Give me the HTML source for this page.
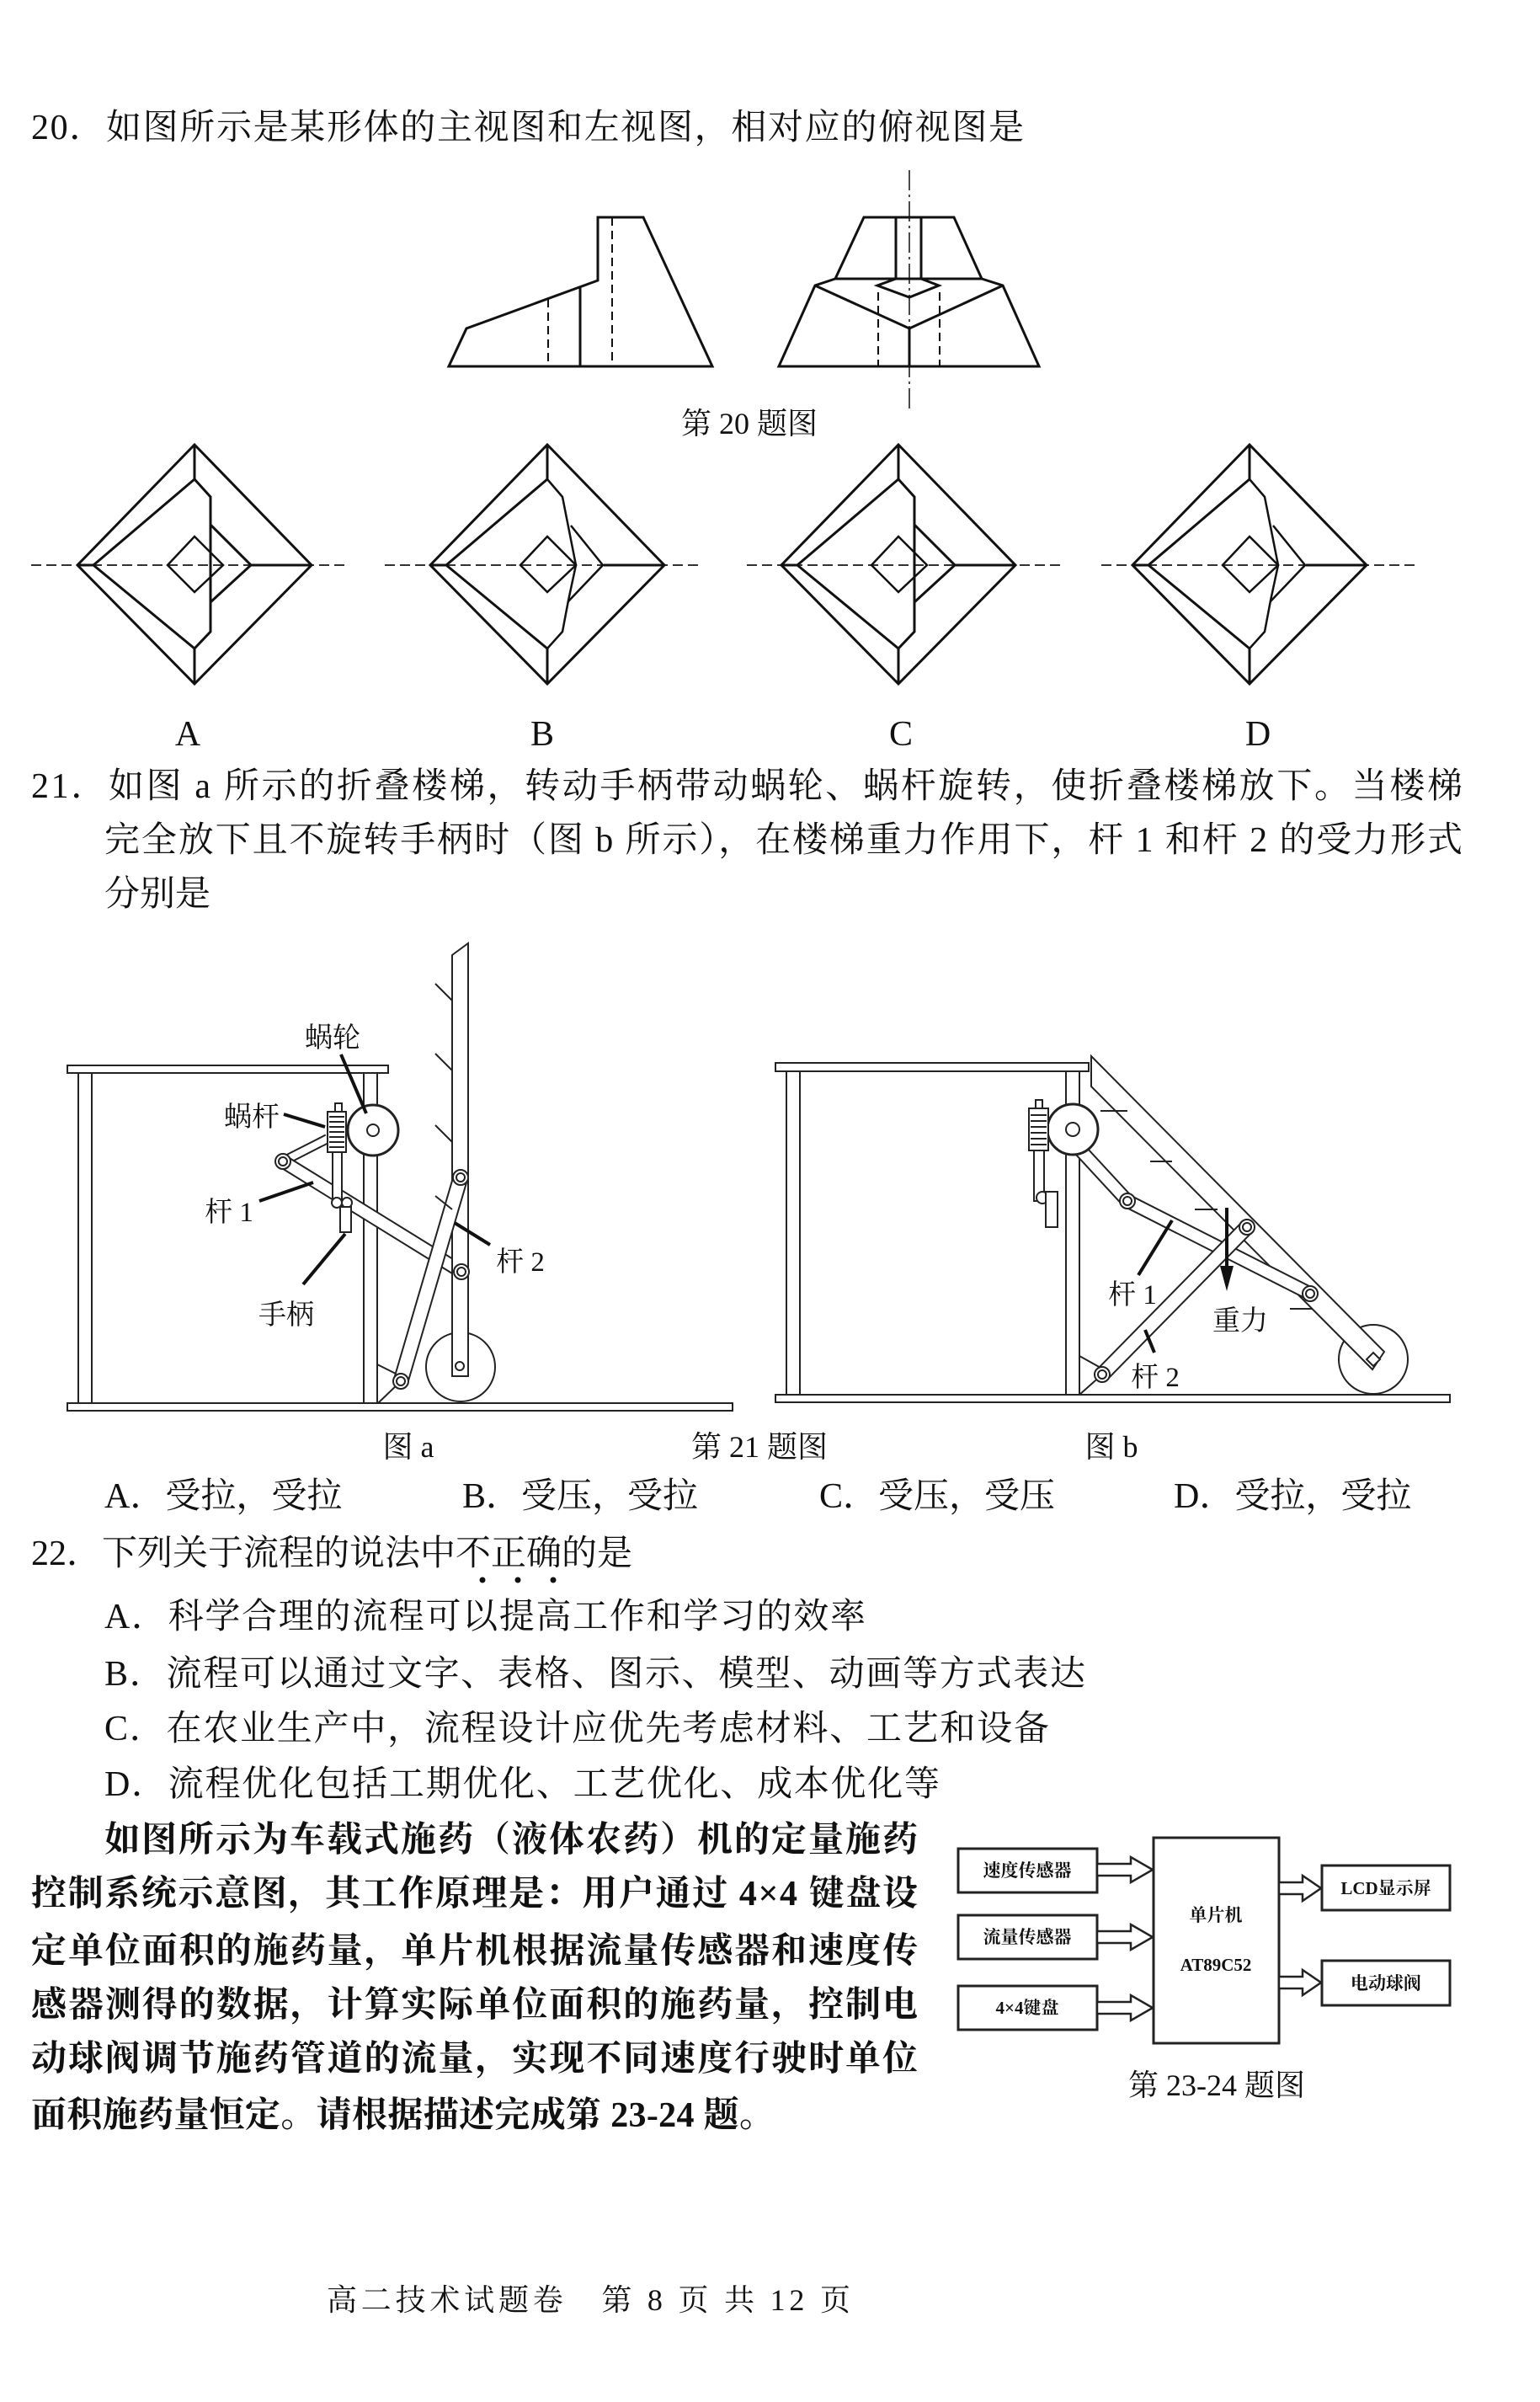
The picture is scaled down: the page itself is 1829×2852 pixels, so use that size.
<!DOCTYPE html>
<html><head><meta charset="utf-8"><style>
html,body{margin:0;padding:0;background:#fff;}
svg{display:block;}
text{font-family:"Liberation Serif","Noto Serif CJK SC",serif;fill:#111;}
.t{font-size:42px;}
.p{font-size:42px;font-weight:bold;}
.s{font-size:33px;}
.c{font-size:36px;}
.b{font-size:21px;font-weight:bold;}
</style></head><body>
<svg width="1829" height="2852" viewBox="0 0 1829 2852" xmlns="http://www.w3.org/2000/svg">
<rect width="1829" height="2852" fill="#fff"/>
<g stroke="#111" fill="none" stroke-width="3">
<polygon points="533,435 554,390 710,333 710,258 764,258 846,435"/>
<line x1="689" y1="341" x2="689" y2="435"/>
<line x1="651" y1="355" x2="651" y2="435" stroke-dasharray="10,6" stroke-width="2"/>
<line x1="727" y1="258" x2="727" y2="435" stroke-dasharray="10,6" stroke-width="2"/>
<polygon points="1026,258 1133,258 1166,331 992,331"/>
<polyline points="992,331 968,339 925,435 1234,435 1191,339 1166,331"/>
<polyline points="968,339 1080,390 1191,339"/>
<polyline points="1064,258 1064,331 1042,339 1080,353 1115,339 1094,331 1094,258"/>
<line x1="1043" y1="347" x2="1043" y2="435" stroke-dasharray="10,6" stroke-width="2"/>
<line x1="1116" y1="347" x2="1116" y2="435" stroke-dasharray="10,6" stroke-width="2"/>
<line x1="1080" y1="390" x2="1080" y2="435"/>
<line x1="1080" y1="202" x2="1080" y2="487" stroke-dasharray="24,5,3,5" stroke-width="1.5"/>
</g>
<text class="c" x="890" y="515" text-anchor="middle">第 20 题图</text>

<g stroke="#333" stroke-width="2" stroke-dasharray="12,6">
<line x1="37" y1="671" x2="412" y2="671"/><line x1="457" y1="671" x2="832" y2="671"/>
<line x1="887" y1="671" x2="1262" y2="671"/><line x1="1308" y1="671" x2="1683" y2="671"/>
</g>
<defs>
<g id="dcom" stroke="#111" stroke-width="3" fill="none">
<polygon points="0,-143 139,0 0,141 -139,0"/>
<polyline points="0,-102 -120,0 0,99"/>
<line x1="0" y1="-143" x2="0" y2="-102"/><line x1="0" y1="99" x2="0" y2="141"/>
<polygon points="0,-34 34,0 0,32 -32,0" stroke-width="2.5"/>
<line x1="-139" y1="0" x2="-120" y2="0"/><line x1="67" y1="0" x2="139" y2="0"/>
</g>
<g id="dA" stroke="#111" stroke-width="3" fill="none">
<polyline points="0,-102 19,-81 19,79 0,99"/>
<polyline points="19,-48 67,0 19,44"/>
</g>
<g id="dB" stroke="#111" stroke-width="2.5" fill="none">
<polyline points="0,-102 18,-81 34,0 25,42 18,79 0,99"/>
<polyline points="28,-47 66,0 25,43"/>
</g>
</defs>
<g transform="translate(231,671)"><use href="#dcom"/><use href="#dA"/></g>
<g transform="translate(650,671)"><use href="#dcom"/><use href="#dB"/></g>
<g transform="translate(1067,671)"><use href="#dcom"/><use href="#dA"/></g>
<g transform="translate(1484,671)"><use href="#dcom"/><use href="#dB"/></g>
<text class="t" x="223" y="885" text-anchor="middle">A</text>
<text class="t" x="644" y="885" text-anchor="middle">B</text>
<text class="t" x="1070" y="885" text-anchor="middle">C</text>
<text class="t" x="1494" y="885" text-anchor="middle">D</text>

<text class="t" x="37" y="165" textLength="1179" lengthAdjust="spacing">20．如图所示是某形体的主视图和左视图，相对应的俯视图是</text>
<text class="t" x="37" y="947" textLength="1700" lengthAdjust="spacing">21．如图 a 所示的折叠楼梯，转动手柄带动蜗轮、蜗杆旋转，使折叠楼梯放下。当楼梯</text>
<text class="t" x="124" y="1011" textLength="1613" lengthAdjust="spacing">完全放下且不旋转手柄时（图 b 所示），在楼梯重力作用下，杆 1 和杆 2 的受力形式</text>
<text class="t" x="124" y="1075">分别是</text>

<g stroke="#222" stroke-width="2" fill="#fff">
<rect x="80" y="1265" width="381" height="9"/>
<rect x="93" y="1274" width="16" height="392"/>
<rect x="432" y="1274" width="16" height="392"/>
<rect x="80" y="1666" width="790" height="9"/>
<line x1="448" y1="1620" x2="476" y2="1634"/>
<line x1="476" y1="1640" x2="449" y2="1666"/>
<line x1="336" y1="1379" x2="389" y2="1352" stroke-width="12"/>
<line x1="336" y1="1379" x2="389" y2="1352" stroke="#fff" stroke-width="8"/>
<line x1="336" y1="1379" x2="548" y2="1510" stroke-width="17"/>
<line x1="336" y1="1379" x2="548" y2="1510" stroke="#fff" stroke-width="13"/>
<circle cx="547" cy="1623" r="41"/>
<polygon points="537,1134 556,1120 556,1634 537,1634"/>
<line x1="547" y1="1398" x2="476" y2="1640" stroke-width="19"/>
<line x1="547" y1="1398" x2="476" y2="1640" stroke="#fff" stroke-width="15"/>
<circle cx="336" cy="1379" r="9"/><circle cx="336" cy="1379" r="5"/>
<circle cx="547" cy="1398" r="9"/><circle cx="547" cy="1398" r="5"/>
<circle cx="476" cy="1640" r="9"/><circle cx="476" cy="1640" r="5"/>
<circle cx="548" cy="1510" r="9"/><circle cx="548" cy="1510" r="5"/>
<circle cx="546" cy="1622" r="5"/>
<circle cx="443" cy="1342" r="30" stroke-width="3"/><circle cx="443" cy="1342" r="7"/>
<rect x="398" y="1310" width="8" height="10"/>
<rect x="389" y="1320" width="22" height="48"/>
<rect x="395" y="1368" width="11" height="62"/>
<circle cx="400" cy="1428" r="6"/><circle cx="412" cy="1428" r="6"/>
<rect x="404" y="1433" width="13" height="30"/>
</g>
<g stroke="#222" stroke-width="2">
<line x1="391" y1="1326" x2="409" y2="1326"/><line x1="391" y1="1332" x2="409" y2="1332"/>
<line x1="391" y1="1338" x2="409" y2="1338"/><line x1="391" y1="1344" x2="409" y2="1344"/>
<line x1="391" y1="1350" x2="409" y2="1350"/><line x1="391" y1="1356" x2="409" y2="1356"/>
<line x1="391" y1="1362" x2="409" y2="1362"/>
<line x1="517" y1="1168" x2="537" y2="1188"/><line x1="517" y1="1251" x2="537" y2="1271"/>
<line x1="517" y1="1336" x2="537" y2="1356"/><line x1="517" y1="1420" x2="537" y2="1436"/>
</g>
<g stroke="#111" stroke-width="4">
<line x1="405" y1="1252" x2="435" y2="1322"/>
<line x1="337" y1="1323" x2="386" y2="1338"/>
<line x1="308" y1="1426" x2="372" y2="1404"/>
<line x1="360" y1="1525" x2="410" y2="1465"/>
<line x1="582" y1="1478" x2="540" y2="1452"/>
</g>
<text class="s" x="395" y="1243" text-anchor="middle">蜗轮</text>
<text class="s" x="299" y="1337" text-anchor="middle">蜗杆</text>
<text class="s" x="272" y="1450" text-anchor="middle">杆 1</text>
<text class="s" x="340" y="1572" text-anchor="middle">手柄</text>
<text class="s" x="618" y="1509" text-anchor="middle">杆 2</text>

<g stroke="#222" stroke-width="2" fill="#fff">
<rect x="921" y="1262" width="372" height="10"/>
<rect x="934" y="1272" width="16" height="384"/>
<rect x="1266" y="1272" width="16" height="384"/>
<rect x="921" y="1656" width="801" height="9"/>
<line x1="1282" y1="1610" x2="1309" y2="1625"/>
<line x1="1309" y1="1632" x2="1282" y2="1656"/>
<circle cx="1631" cy="1614" r="41"/>
<polygon points="1296,1254 1644,1605 1630,1626 1296,1290"/>
<line x1="1278" y1="1360" x2="1339" y2="1426" stroke-width="17"/>
<line x1="1278" y1="1360" x2="1339" y2="1426" stroke="#fff" stroke-width="13"/>
<line x1="1339" y1="1426" x2="1556" y2="1536" stroke-width="17"/>
<line x1="1339" y1="1426" x2="1556" y2="1536" stroke="#fff" stroke-width="13"/>
<line x1="1481" y1="1457" x2="1309" y2="1632" stroke-width="19"/>
<line x1="1481" y1="1457" x2="1309" y2="1632" stroke="#fff" stroke-width="15"/>
<circle cx="1339" cy="1426" r="9"/><circle cx="1339" cy="1426" r="5"/>
<circle cx="1481" cy="1457" r="9"/><circle cx="1481" cy="1457" r="5"/>
<circle cx="1556" cy="1536" r="9"/><circle cx="1556" cy="1536" r="5"/>
<circle cx="1309" cy="1632" r="9"/><circle cx="1309" cy="1632" r="5"/>
<polygon points="1631,1606 1639,1614 1631,1622 1623,1614"/>
<circle cx="1274" cy="1341" r="30" stroke-width="3"/><circle cx="1274" cy="1341" r="8"/>
<rect x="1230" y="1306" width="8" height="10"/>
<rect x="1222" y="1316" width="23" height="50"/>
<rect x="1228" y="1366" width="12" height="60"/>
<circle cx="1238" cy="1422" r="7"/>
<rect x="1242" y="1415" width="14" height="42"/>
</g>
<g stroke="#222" stroke-width="2">
<line x1="1224" y1="1324" x2="1243" y2="1324"/><line x1="1224" y1="1331" x2="1243" y2="1331"/>
<line x1="1224" y1="1338" x2="1243" y2="1338"/><line x1="1224" y1="1345" x2="1243" y2="1345"/>
<line x1="1224" y1="1352" x2="1243" y2="1352"/><line x1="1224" y1="1359" x2="1243" y2="1359"/>
<line x1="1307" y1="1319" x2="1339" y2="1319"/><line x1="1366" y1="1379" x2="1392" y2="1379"/>
<line x1="1419" y1="1436" x2="1446" y2="1436"/><line x1="1532" y1="1554" x2="1559" y2="1554"/>
</g>
<g stroke="#111" stroke-width="4">
<line x1="1352" y1="1514" x2="1392" y2="1449"/>
<line x1="1371" y1="1606" x2="1360" y2="1579"/>
<line x1="1457" y1="1434" x2="1457" y2="1505"/>
</g>
<polygon points="1449,1503 1465,1503 1457,1533" fill="#111"/>
<text class="s" x="1345" y="1548" text-anchor="middle">杆 1</text>
<text class="s" x="1473" y="1579" text-anchor="middle">重力</text>
<text class="s" x="1372" y="1646" text-anchor="middle">杆 2</text>

<text class="c" x="485" y="1730" text-anchor="middle">图 a</text>
<text class="c" x="902" y="1730" text-anchor="middle">第 21 题图</text>
<text class="c" x="1320" y="1730" text-anchor="middle">图 b</text>

<text class="t" x="124" y="1790">A．受拉，受拉</text>
<text class="t" x="549" y="1790">B．受压，受拉</text>
<text class="t" x="973" y="1790">C．受压，受压</text>
<text class="t" x="1394" y="1790">D．受拉，受拉</text>
<text class="t" x="37" y="1858">22．下列关于流程的说法中不正确的是</text>
<g fill="#111"><circle cx="573" cy="1876" r="3.5"/><circle cx="615" cy="1876" r="3.5"/><circle cx="657" cy="1876" r="3.5"/></g>
<text class="t" x="124" y="1933" textLength="904" lengthAdjust="spacing">A．科学合理的流程可以提高工作和学习的效率</text>
<text class="t" x="124" y="2001" textLength="1165" lengthAdjust="spacing">B．流程可以通过文字、表格、图示、模型、动画等方式表达</text>
<text class="t" x="124" y="2066" textLength="1122" lengthAdjust="spacing">C．在农业生产中，流程设计应优先考虑材料、工艺和设备</text>
<text class="t" x="124" y="2132" textLength="992" lengthAdjust="spacing">D．流程优化包括工期优化、工艺优化、成本优化等</text>

<text class="p" x="124" y="2198" textLength="966" lengthAdjust="spacing">如图所示为车载式施药（液体农药）机的定量施药</text>
<text class="p" x="37" y="2262" textLength="1053" lengthAdjust="spacing">控制系统示意图，其工作原理是：用户通过 4×4 键盘设</text>
<text class="p" x="37" y="2330" textLength="1053" lengthAdjust="spacing">定单位面积的施药量，单片机根据流量传感器和速度传</text>
<text class="p" x="37" y="2394" textLength="1053" lengthAdjust="spacing">感器测得的数据，计算实际单位面积的施药量，控制电</text>
<text class="p" x="37" y="2458" textLength="1053" lengthAdjust="spacing">动球阀调节施药管道的流量，实现不同速度行驶时单位</text>
<text class="p" x="37" y="2525" textLength="883" lengthAdjust="spacing">面积施药量恒定。请根据描述完成第 23-24 题。</text>

<g stroke="#222" stroke-width="3" fill="#fff">
<rect x="1138" y="2195" width="165" height="52"/>
<rect x="1138" y="2274" width="165" height="52"/>
<rect x="1138" y="2358" width="165" height="52"/>
<rect x="1370" y="2182" width="149" height="244"/>
<rect x="1570" y="2215" width="152" height="53"/>
<rect x="1570" y="2328" width="152" height="53"/>
</g>
<defs>
<polygon id="arr" points="0,-7 40,-7 40,-15 66,0 40,15 40,7 0,7" fill="#fff" stroke="#222" stroke-width="2.5"/>
<polygon id="arr2" points="0,-7 28,-7 28,-15 50,0 28,15 28,7 0,7" fill="#fff" stroke="#222" stroke-width="2.5"/>
</defs>
<use href="#arr" x="1303" y="2220"/>
<use href="#arr" x="1303" y="2300"/>
<use href="#arr" x="1303" y="2384"/>
<use href="#arr2" x="1519" y="2242"/>
<use href="#arr2" x="1519" y="2354"/>
<text class="b" x="1220" y="2228" text-anchor="middle">速度传感器</text>
<text class="b" x="1220" y="2307" text-anchor="middle">流量传感器</text>
<text class="b" x="1220" y="2391" text-anchor="middle">4×4键盘</text>
<text class="b" x="1444" y="2281" text-anchor="middle">单片机</text>
<text class="b" x="1444" y="2340" text-anchor="middle">AT89C52</text>
<text class="b" x="1646" y="2249" text-anchor="middle">LCD显示屏</text>
<text class="b" x="1646" y="2362" text-anchor="middle">电动球阀</text>
<text class="c" x="1445" y="2488" text-anchor="middle">第 23-24 题图</text>

<text class="c" x="388" y="2743" textLength="622" lengthAdjust="spacing">高二技术试题卷　第 8 页 共 12 页</text>
</svg>
</body></html>
